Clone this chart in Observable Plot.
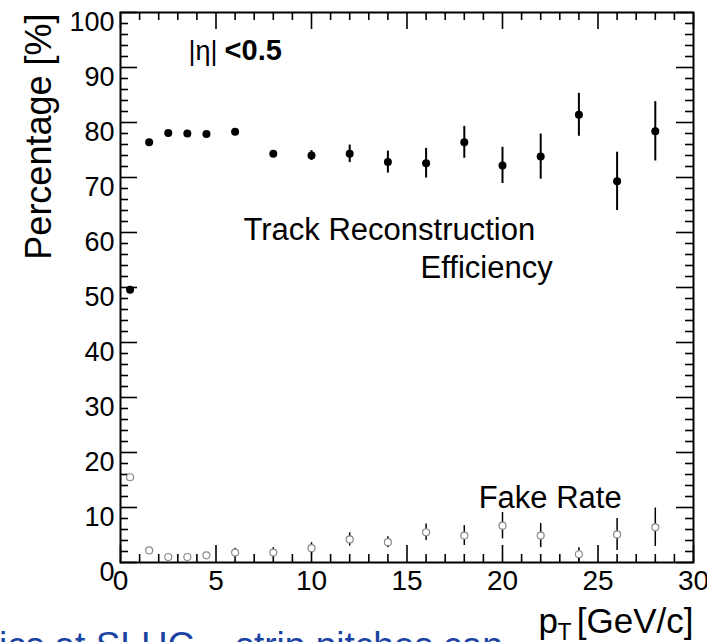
<!DOCTYPE html>
<html>
<head>
<meta charset="utf-8">
<script src="https://cdn.jsdelivr.net/npm/d3@7"></script>
<script src="https://cdn.jsdelivr.net/npm/@observablehq/plot@0.6"></script>
<style>
  html, body { margin: 0; padding: 0; background: white; overflow: hidden; }
  #wrap { position: relative; width: 707px; height: 642px; overflow: hidden; background: white; }
  #chart { width: 723px; height: 642px; }
  #chart svg { max-width: none !important; width: 723px !important; height: 642px !important; }
  #blue { position: absolute; left: -1px; top: 627px; font: 37px "Liberation Sans", Arial, sans-serif; line-height: 1; color: #1a43a3; white-space: nowrap; }
</style>
</head>
<body>
<div id="wrap"><div id="chart"></div><div id="blue">ics at SLHC – strip pitches can</div></div>
<script>
// ---- data ----
const pt      = [0.5, 1.5, 2.5, 3.5, 4.5, 6, 8, 10, 12, 14, 16, 18, 20, 22, 24, 26, 28];
const eff     = [49.6, 76.4, 78.1, 78.0, 77.9, 78.3, 74.3, 74.0, 74.3, 72.8, 72.6, 76.4, 72.2, 73.8, 81.4, 69.3, 78.4];
const effErr  = [0.3, 0.4, 0.4, 0.4, 0.4, 0.5, 0.6, 0.9, 1.6, 2.0, 2.7, 2.9, 3.3, 4.1, 3.9, 5.3, 5.4];
const fake    = [15.5, 2.2, 1.0, 1.0, 1.3, 1.8, 1.8, 2.6, 4.2, 3.7, 5.5, 4.9, 6.7, 4.9, 1.5, 5.1, 6.4];
const fakeErr = [0.3, 0.3, 0.3, 0.3, 0.4, 0.8, 0.9, 1.0, 1.2, 1.0, 1.5, 1.8, 2.4, 2.2, 1.2, 2.9, 3.5];

const xTicks = [0, 5, 10, 15, 20, 25, 30];
const yTicks = [0, 10, 20, 30, 40, 50, 60, 70, 80, 90, 100];
const xMinor = d3.range(0, 31, 1).filter(v => v % 5 !== 0);
const yMinor = d3.range(0, 101, 2).filter(v => v % 10 !== 0);

const yTitle = "Percentage [%]";
const xTitleMain = "p", xTitleSub = "T", xTitleUnit = "[GeV/c]";

const annotations = [
  {x: 3.56, y: 91.4, text: "|η|", weight: "normal", anchor: "start", size: 27},
  {x: 5.45, y: 91.4, text: "<0.5", weight: "bold", anchor: "start", size: 29},
  {x: 6.44, y: 58.6, text: "Track Reconstruction", weight: "normal", anchor: "start", size: 31},
  {x: 22.63, y: 51.7, text: "Efficiency", weight: "normal", anchor: "end", size: 31},
  {x: 18.75, y: 10.0, text: "Fake Rate", weight: "normal", anchor: "start", size: 31}
];

// ---- layout ----
const W = 723, H = 642;
const mL = 120, mR = 30, mT = 12, mB = 80;
const FW = W - mL - mR, FH = H - mT - mB;
const majorLen = 17, minorLen = 8;
const FONT = "Liberation Sans, Arial, Helvetica, sans-serif";

const effRows = pt.map((x, i) => ({x, y: eff[i], e: effErr[i]}));
const fakeRows = pt.map((x, i) => ({x, y: fake[i], e: fakeErr[i]}));

const annoMarks = annotations.map(a => Plot.text([a], {
  x: "x", y: "y", text: "text", textAnchor: a.anchor, lineAnchor: "bottom",
  fontSize: a.size, fontWeight: a.weight, fill: "black", fontFamily: FONT
}));

const chart = Plot.plot({
  width: W, height: H,
  marginLeft: mL, marginRight: mR, marginTop: mT, marginBottom: mB,
  style: {fontFamily: FONT, background: "white", color: "black", maxWidth: "none"},
  x: {domain: [0, 30], axis: null},
  y: {domain: [0, 100], axis: null},
  marks: [
    // ticks inside the frame (ROOT style), all four sides
    Plot.ruleX(xTicks, {x: d => d, insetTop: FH - majorLen, stroke: "black", strokeWidth: 1.6}),
    Plot.ruleX(xMinor, {x: d => d, insetTop: FH - minorLen, stroke: "black", strokeWidth: 1.6}),
    Plot.ruleX(xTicks, {x: d => d, insetBottom: FH - majorLen, stroke: "black", strokeWidth: 1.6}),
    Plot.ruleX(xMinor, {x: d => d, insetBottom: FH - minorLen, stroke: "black", strokeWidth: 1.6}),
    Plot.ruleY(yTicks, {y: d => d, insetRight: FW - majorLen, stroke: "black", strokeWidth: 1.6}),
    Plot.ruleY(yMinor, {y: d => d, insetRight: FW - minorLen, stroke: "black", strokeWidth: 1.6}),
    Plot.ruleY(yTicks, {y: d => d, insetLeft: FW - majorLen, stroke: "black", strokeWidth: 1.6}),
    Plot.ruleY(yMinor, {y: d => d, insetLeft: FW - minorLen, stroke: "black", strokeWidth: 1.6}),
    Plot.frame({stroke: "black", strokeWidth: 2}),
    Plot.axisX({ticks: xTicks, tickSize: 0, tickPadding: 8, fontSize: 28, fontWeight: "normal", tickFormat: d => String(d), label: null}),
    Plot.axisY({ticks: yTicks, tickSize: 0, tickPadding: 6, fontSize: 27, fontWeight: "normal", dy: 10, tickFormat: d => String(d), label: null}),
    // axis titles
    Plot.text([yTitle], {frameAnchor: "top-left", text: d => d, rotate: -90, textAnchor: "end", lineAnchor: "bottom", dx: -70, dy: 1, fontSize: 36, fill: "black"}),
    Plot.text([xTitleMain], {frameAnchor: "bottom-right", text: d => d, textAnchor: "start", lineAnchor: "bottom", dx: -155, dy: 70, fontSize: 35, fill: "black"}),
    Plot.text([xTitleSub], {frameAnchor: "bottom-right", text: d => d, textAnchor: "start", lineAnchor: "bottom", dx: -136, dy: 77, fontSize: 23, fill: "black"}),
    Plot.text([xTitleUnit], {frameAnchor: "bottom-right", text: d => d, textAnchor: "end", lineAnchor: "bottom", dx: 0, dy: 70, fontSize: 35, fill: "black"}),
    // fake rate: error bars + open circles
    Plot.ruleX(fakeRows, {x: "x", y1: d => d.y - d.e, y2: d => d.y + d.e, stroke: "black", strokeWidth: 1.5}),
    Plot.dot(fakeRows, {x: "x", y: "y", r: 3.5, fill: "white", stroke: "#8a8a8a", strokeWidth: 1.2}),
    // efficiency: error bars + filled dots
    Plot.ruleX(effRows, {x: "x", y1: d => d.y - d.e, y2: d => d.y + d.e, stroke: "black", strokeWidth: 2}),
    Plot.dot(effRows, {x: "x", y: "y", r: 4, fill: "black", stroke: "none"}),
    ...annoMarks
  ]
});
document.getElementById("chart").appendChild(chart);
</script>
</body>
</html>
